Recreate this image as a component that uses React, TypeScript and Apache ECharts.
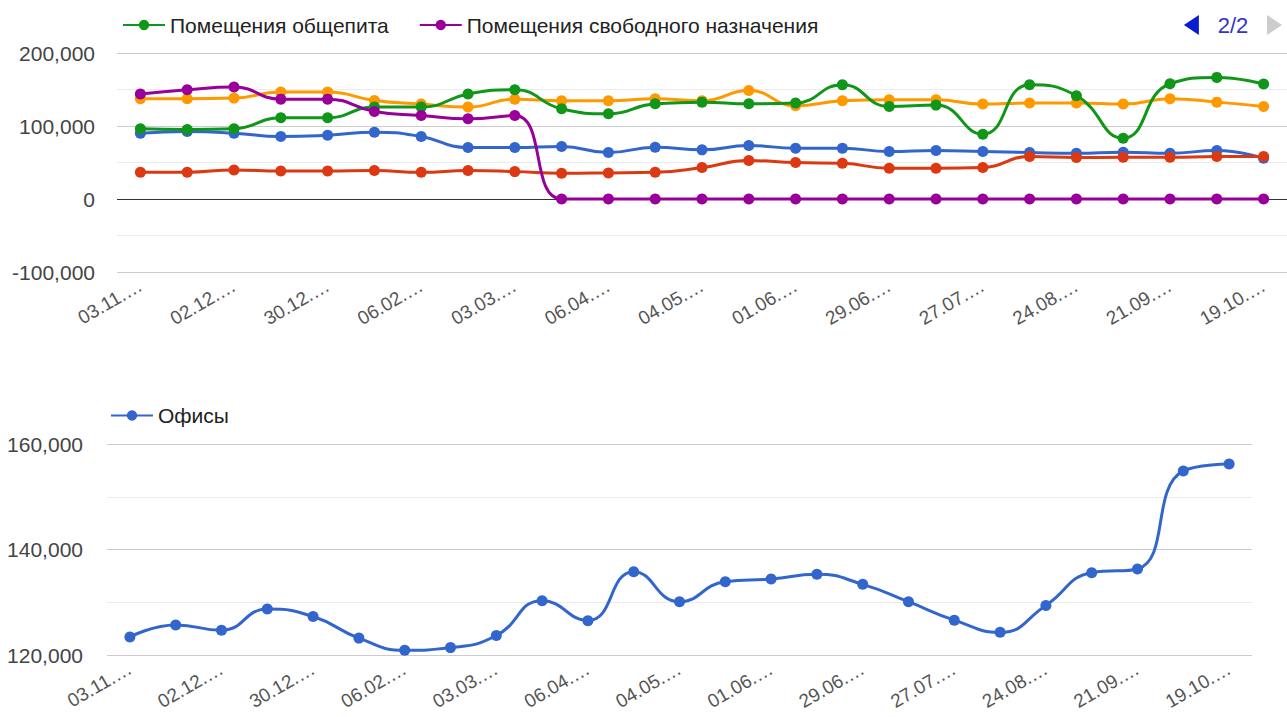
import React, { useEffect, useRef } from 'react';
import * as echarts from 'echarts';

const dates = [
  '03.11.2019', '17.11.2019', '02.12.2019', '16.12.2019', '30.12.2019', '20.01.2020',
  '06.02.2020', '20.02.2020', '03.03.2020', '17.03.2020', '06.04.2020', '20.04.2020',
  '04.05.2020', '18.05.2020', '01.06.2020', '15.06.2020', '29.06.2020', '13.07.2020',
  '27.07.2020', '10.08.2020', '24.08.2020', '07.09.2020', '21.09.2020', '05.10.2020',
  '19.10.2020',
];

const topNames = [
  'Производственные помещения',
  'Складские помещения',
  'Торговые помещения',
  'Помещения общепита',
  'Помещения свободного назначения',
];
const bottomName = 'Офисы';

const productionValues = [90200, 92400, 90200, 85600, 87400, 91500, 85600, 70500, 70500, 71900, 63600, 70900, 67300, 73200, 69600, 69600, 65000, 66400, 65000, 63600, 62700, 64100, 62700, 66400, 55800];
const storageValues = [36600, 36600, 39800, 38400, 38400, 38900, 36600, 38900, 37500, 35200, 35700, 36600, 43000, 52600, 49900, 49000, 42100, 42100, 43000, 58100, 56800, 57200, 57200, 58100, 58100];
const retailValues = [137300, 137300, 138200, 146500, 146500, 135000, 130000, 125900, 136800, 134600, 134600, 137300, 134600, 148700, 127700, 134600, 135900, 135900, 130000, 131400, 131400, 130000, 137300, 132700, 126800];
const cateringValues = [96100, 95200, 96100, 111200, 111200, 125900, 125900, 143700, 149700, 123600, 116700, 130400, 132700, 130400, 131400, 156500, 126800, 128600, 88800, 156500, 141400, 83300, 157900, 166600, 157400];
const freeUseValues = [143700, 149700, 153300, 136800, 136800, 119900, 114400, 109800, 114400, 0, 0, 0, 0, 0, 0, 0, 0, 0, 0, 0, 0, 0, 0, 0, 0];
const officeValues = [123400, 125700, 124700, 128700, 127300, 123200, 120900, 121400, 123700, 130300, 126500, 135800, 130100, 133900, 134400, 135300, 133400, 130100, 126600, 124300, 129400, 135600, 136300, 154900, 156200];

const topTickLabels = [-100000, 0, 100000, 200000];
const bottomTickLabels = [120000, 140000, 160000];

const colors = ['#3366cc', '#dc3912', '#ff9900', '#109618', '#990099'];
const FONT = 'Arial, "Liberation Sans", sans-serif';

const fmt = (v: number) =>
  (v < 0 ? '-' : '') + String(Math.abs(v)).replace(/\B(?=(\d{3})+(?!\d))/g, ',');

export default function App() {
  const ref = useRef<HTMLDivElement>(null);

  useEffect(() => {
    const chart = echarts.init(ref.current!, null, { renderer: 'svg' });
    const topData = [productionValues, storageValues, retailValues, cateringValues, freeUseValues];

    const lineSeries = (name: string, data: number[], color: string, idx: number) => ({
      name,
      type: 'line',
      xAxisIndex: idx,
      yAxisIndex: idx,
      data,
      smooth: 0.5,
      symbol: 'circle',
      symbolSize: 11,
      showSymbol: true,
      lineStyle: { color, width: 3 },
      itemStyle: { color },
      emphasis: { disabled: true },
    });

    const xLabel = {
      interval: 1,
      rotate: 30,
      margin: 12,
      fontSize: 19,
      fontFamily: FONT,
      color: '#555',
      formatter: (v: string) => v.slice(0, 6) + '…',
    };

    const legendText = { fontSize: 21, fontFamily: FONT, color: '#222' };

    chart.setOption({
      animation: false,
      backgroundColor: '#fff',
      color: colors,
      legend: [
        {
          type: 'scroll',
          data: topNames,
          left: 117,
          right: -8,
          top: 9,
          itemWidth: 42,
          itemHeight: 13,
          itemGap: 30,
          scrollDataIndex: 3,
          pageButtonItemGap: 9,
          pageButtonGap: 20,
          pageIcons: {
            horizontal: ['path://M0,0L15,-10L15,10z', 'path://M0,0L-15,-10L-15,10z'],
          },
          pageIconColor: '#0a1ccf',
          pageIconInactiveColor: '#cccccc',
          pageIconSize: [15, 20],
          pageTextStyle: { color: '#3333cc', fontSize: 22, fontFamily: FONT },
          textStyle: legendText,
          selectedMode: false,
        },
        {
          data: [bottomName],
          left: 105,
          top: 400,
          itemWidth: 42,
          itemHeight: 13,
          textStyle: legendText,
          selectedMode: false,
        },
      ],
      grid: [
        { left: 117, top: 53, width: 1177, height: 219 },
        { left: 107, top: 444, width: 1145, height: 211 },
      ],
      xAxis: [
        {
          type: 'category',
          gridIndex: 0,
          data: dates,
          boundaryGap: true,
          axisLine: { show: false, onZero: false },
          axisTick: { show: false },
          axisLabel: xLabel,
          splitLine: { show: false },
        },
        {
          type: 'category',
          gridIndex: 1,
          data: dates,
          boundaryGap: true,
          axisLine: { show: false, onZero: false },
          axisTick: { show: false },
          axisLabel: xLabel,
          splitLine: { show: false },
        },
      ],
      yAxis: [
        {
          type: 'value',
          gridIndex: 0,
          min: -100000,
          max: 200000,
          interval: 50000,
          axisLine: { show: false },
          axisTick: { show: false },
          axisLabel: {
            margin: 22,
            fontSize: 21,
            fontFamily: FONT,
            color: '#444',
            formatter: (v: number) => (topTickLabels.includes(v) ? fmt(v) : ''),
          },
          splitLine: {
            lineStyle: {
              width: 1,
              color: ['#cccccc', '#ebebeb', '#333333', '#ebebeb', '#cccccc', '#ebebeb', '#cccccc'],
            },
          },
        },
        {
          type: 'value',
          gridIndex: 1,
          min: 120000,
          max: 160000,
          interval: 10000,
          axisLine: { show: false },
          axisTick: { show: false },
          axisLabel: {
            margin: 24,
            fontSize: 21,
            fontFamily: FONT,
            color: '#444',
            formatter: (v: number) => (bottomTickLabels.includes(v) ? fmt(v) : ''),
          },
          splitLine: {
            lineStyle: {
              width: 1,
              color: ['#cccccc', '#ebebeb', '#cccccc', '#ebebeb', '#cccccc'],
            },
          },
        },
      ],
      series: [
        ...topNames.map((n, i) => lineSeries(n, topData[i], colors[i], 0)),
        lineSeries(bottomName, officeValues, colors[0], 1),
      ],
    });

    return () => chart.dispose();
  }, []);

  return (
    <div
      ref={ref}
      style={{ position: 'fixed', left: 0, top: 0, width: 1287, height: 717, background: '#fff' }}
    />
  );
}
